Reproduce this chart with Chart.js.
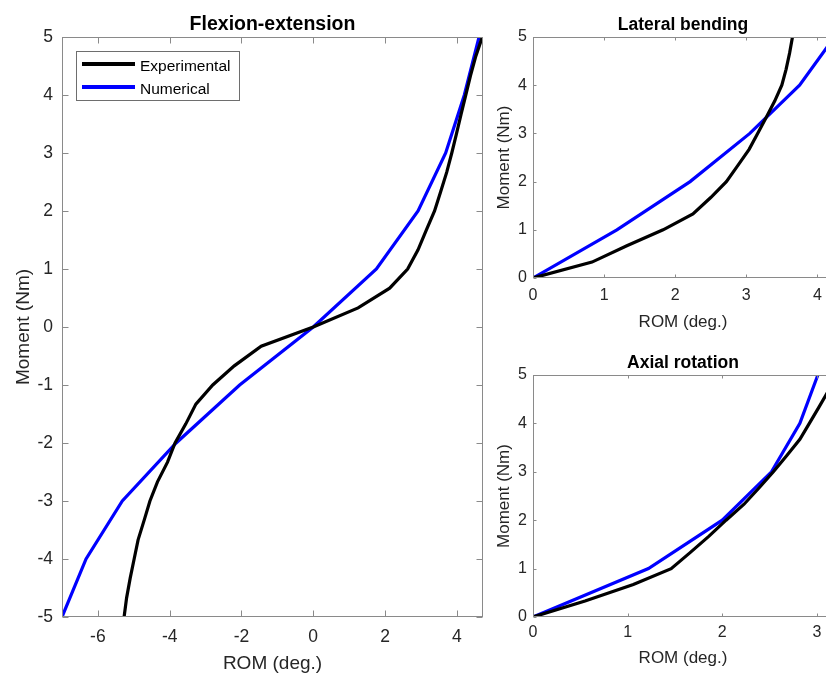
<!DOCTYPE html>
<html>
<head>
<meta charset="utf-8">
<title>Range of motion</title>
<script src="https://cdn.jsdelivr.net/npm/chart.js@4.4.1/dist/chart.umd.min.js"></script>
<style>
  html, body { margin: 0; background: #fff; overflow: hidden; }
  body { width: 826px; height: 673px; position: relative; }
  .panel { position: absolute; }
  #flexBox { left: 0; top: 0; width: 490px; height: 673px; }
  #latBox { left: 490px; top: 0; width: 360px; height: 331px; }
  #axBox { left: 490px; top: 338px; width: 360px; height: 329px; }
</style>
</head>
<body>
<div class="panel" id="flexBox"><canvas id="flexChart"></canvas></div>
<div class="panel" id="latBox"><canvas id="latChart"></canvas></div>
<div class="panel" id="axBox"><canvas id="axChart"></canvas></div>
<script>
// Moment (Nm) / ROM (deg.) pairs, experimental curves are sampled every 1/3 Nm
const flexMomentExp = [-5, -4.67, -4.33, -4, -3.67, -3.33, -3, -2.67, -2.33, -2, -1.67, -1.33, -1, -0.67, -0.33, 0, 0.33, 0.67, 1, 1.33, 1.67, 2, 2.33, 2.67, 3, 3.33, 3.67, 4, 4.33, 4.67, 5];
const flexRomExp = [-5.27, -5.2, -5.1, -4.99, -4.88, -4.71, -4.55, -4.34, -4.06, -3.85, -3.55, -3.27, -2.8, -2.2, -1.45, 0, 1.25, 2.13, 2.63, 2.92, 3.15, 3.38, 3.55, 3.72, 3.86, 3.99, 4.12, 4.25, 4.38, 4.53, 4.71];
const flexMomentNum = [-5, -4, -3, -2, -1, 0, 1, 2, 3, 4, 5];
const flexRomNum = [-7.0, -6.33, -5.32, -3.82, -2.05, 0, 1.76, 2.92, 3.69, 4.21, 4.62];

const halfMomentExp = [0, 0.33, 0.67, 1, 1.33, 1.67, 2, 2.33, 2.67, 3, 3.33, 3.67, 4, 4.33, 4.67, 5];
const halfMomentNum = [0, 1, 2, 3, 4, 5];
const latRomExp = [0, 0.83, 1.32, 1.83, 2.25, 2.5, 2.72, 2.88, 3.04, 3.16, 3.28, 3.4, 3.5, 3.56, 3.61, 3.65];
const latRomNum = [0, 1.18, 2.21, 3.05, 3.75, 4.24];
const axRomExp = [0, 0.55, 1.06, 1.46, 1.66, 1.86, 2.04, 2.23, 2.39, 2.54, 2.68, 2.82, 2.92, 3.02, 3.12, 3.2];
const axRomNum = [0, 1.22, 2.0, 2.52, 2.82, 3.01];

const flexTicksX = [-6, -4, -2, 0, 2, 4];
const latTicksX = [0, 1, 2, 3, 4];
const axTicksX = [0, 1, 2, 3];

const FONT = "'Liberation Sans', Arial, sans-serif";
const boxColor = '#8a8a8a';
const textColor = '#262626';

function points(rom, moment) {
    return rom.map((r, i) => ({ x: r, y: moment[i] }));
}

// MATLAB-like axes: full box, inward ticks on all sides, bold title, optional legend
const axesBox = {
    id: 'axesBox',
    afterDatasetsDraw(chart, args, opts) {
        const { ctx, chartArea: a, scales: { x, y } } = chart;
        const L = Math.round(a.left) + 0.5, R = Math.round(a.right) - 0.5;
        const T = Math.round(a.top) + 0.5, B = Math.round(a.bottom) - 0.5;
        ctx.save();
        ctx.strokeStyle = boxColor;
        ctx.lineWidth = 1;
        ctx.strokeRect(L, T, R - L, B - T);
        ctx.beginPath();
        x.ticks.forEach(t => {
            const px = Math.round(x.getPixelForValue(t.value)) + 0.5;
            ctx.moveTo(px, B); ctx.lineTo(px, B - opts.tickLen);
            ctx.moveTo(px, T); ctx.lineTo(px, T + opts.tickLen);
        });
        y.ticks.forEach(t => {
            const py = Math.round(y.getPixelForValue(t.value)) + 0.5;
            ctx.moveTo(L, py); ctx.lineTo(L + opts.tickLen, py);
            ctx.moveTo(R, py); ctx.lineTo(R - opts.tickLen, py);
        });
        ctx.stroke();

        ctx.fillStyle = '#000';
        ctx.font = `bold ${opts.titleSize}px ${FONT}`;
        ctx.textAlign = 'center';
        ctx.textBaseline = 'alphabetic';
        ctx.fillText(opts.title, (a.left + a.right) / 2, a.top - 7);

        if (opts.legend) {
            const lx = a.left + 14, ly = a.top + 14;
            ctx.fillStyle = '#fff';
            ctx.fillRect(lx, ly, 163, 49);
            ctx.strokeStyle = '#6e6e6e';
            ctx.strokeRect(lx + 0.5, ly + 0.5, 163, 49);
            ctx.font = `15.5px ${FONT}`;
            ctx.textAlign = 'left';
            ctx.textBaseline = 'middle';
            chart.data.datasets.forEach((ds, i) => {
                const rowY = ly + 13 + i * 23;
                ctx.strokeStyle = ds.borderColor;
                ctx.lineWidth = 4;
                ctx.beginPath();
                ctx.moveTo(lx + 6, rowY);
                ctx.lineTo(lx + 59, rowY);
                ctx.stroke();
                ctx.fillStyle = '#000';
                ctx.fillText(ds.label, lx + 64, rowY + 2.5);
            });
        }
        ctx.restore();
    }
};

function makeChart(id, cfg) {
    return new Chart(document.getElementById(id), {
        type: 'line',
        data: {
            datasets: [
                { label: 'Experimental', data: cfg.exp, borderColor: '#000000', borderWidth: 3.2, pointRadius: 0, tension: 0 },
                { label: 'Numerical', data: cfg.num, borderColor: '#0000ff', borderWidth: 3.2, pointRadius: 0, tension: 0 }
            ]
        },
        options: {
            responsive: true,
            maintainAspectRatio: false,
            animation: false,
            events: [],
            layout: { padding: cfg.padding },
            plugins: {
                legend: { display: false },
                tooltip: { enabled: false },
                axesBox: { title: cfg.title, titleSize: cfg.titleSize, tickLen: cfg.tickLen, legend: cfg.legend }
            },
            scales: {
                x: {
                    type: 'linear',
                    min: cfg.xMin,
                    max: cfg.xMax,
                    afterBuildTicks: s => { s.ticks = cfg.xTicks.map(v => ({ value: v })); },
                    afterFit: s => { s.height = cfg.xHeight; },
                    grid: { display: false, drawTicks: false },
                    border: { display: false },
                    ticks: { color: textColor, font: { family: FONT, size: cfg.tickSize }, padding: cfg.xPad, maxRotation: 0 },
                    title: { display: true, text: 'ROM (deg.)', color: textColor, font: { family: FONT, size: cfg.labelSize, lineHeight: 1 }, padding: { top: 0, bottom: 0 } }
                },
                y: {
                    type: 'linear',
                    min: cfg.yMin,
                    max: 5,
                    afterFit: s => { s.width = cfg.yWidth; },
                    grid: { display: false, drawTicks: false },
                    border: { display: false },
                    ticks: { stepSize: 1, color: textColor, font: { family: FONT, size: cfg.tickSize }, padding: cfg.yPad },
                    title: { display: true, text: 'Moment (Nm)', color: textColor, font: { family: FONT, size: cfg.labelSize, lineHeight: 1 }, padding: { top: cfg.yTitlePad, bottom: 0 } }
                }
            }
        },
        plugins: [axesBox]
    });
}

// Flexion-extension
makeChart('flexChart', {
    exp: points(flexRomExp, flexMomentExp),
    num: points(flexRomNum, flexMomentNum),
    title: 'Flexion-extension', titleSize: 19.5, tickLen: 6, legend: true,
    xMin: -7, xMax: 4.73, xTicks: flexTicksX, yMin: -5,
    padding: { top: 37, right: 7, left: 0, bottom: 0 },
    xHeight: 56, yWidth: 62, xPad: 10, yPad: 9, yTitlePad: 14,
    tickSize: 17.5, labelSize: 19
});

// Lateral bending
makeChart('latChart', {
    exp: points(latRomExp, halfMomentExp),
    num: points(latRomNum, halfMomentNum),
    title: 'Lateral bending', titleSize: 17.5, tickLen: 3, legend: false,
    xMin: 0, xMax: 4.22, xTicks: latTicksX, yMin: 0,
    padding: { top: 37, right: 17, left: 0, bottom: 0 },
    xHeight: 53, yWidth: 43, xPad: 8, yPad: 6, yTitlePad: 5.5,
    tickSize: 16, labelSize: 17
});

// Axial rotation
makeChart('axChart', {
    exp: points(axRomExp, halfMomentExp),
    num: points(axRomNum, halfMomentNum),
    title: 'Axial rotation', titleSize: 17.5, tickLen: 3, legend: false,
    xMin: 0, xMax: 3.17, xTicks: axTicksX, yMin: 0,
    padding: { top: 37, right: 17, left: 0, bottom: 0 },
    xHeight: 50, yWidth: 43, xPad: 6, yPad: 6, yTitlePad: 5.5,
    tickSize: 16, labelSize: 17
});
</script>
</body>
</html>
